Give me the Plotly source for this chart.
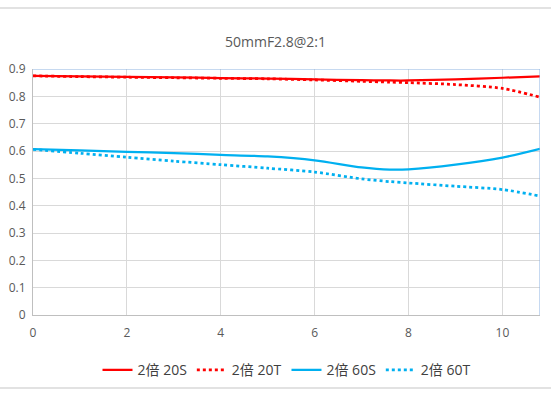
import plotly.graph_objects as go

x_vals = [0, 1, 2, 3, 4, 5, 6, 7, 7.6, 8, 9, 10, 10.8]
s20 = [0.875, 0.873, 0.871, 0.869, 0.867, 0.865, 0.862, 0.859, 0.858, 0.858, 0.862, 0.868, 0.873]
t20 = [0.875, 0.872, 0.870, 0.868, 0.866, 0.864, 0.860, 0.855, 0.852, 0.850, 0.843, 0.829, 0.797]
s60 = [0.607, 0.602, 0.597, 0.592, 0.586, 0.580, 0.566, 0.540, 0.532, 0.533, 0.550, 0.576, 0.608]
t60 = [0.606, 0.592, 0.577, 0.563, 0.550, 0.537, 0.523, 0.498, 0.488, 0.483, 0.471, 0.459, 0.435]
names = ["2倍 20S", "2倍 20T", "2倍 60S", "2倍 60T"]
x_ticks = [0, 2, 4, 6, 8, 10]
y_ticks = [0, 0.1, 0.2, 0.3, 0.4, 0.5, 0.6, 0.7, 0.8, 0.9]

RED = "#FF0000"
BLUE = "#00B0F0"
FONT = "Open Sans, Noto Sans CJK SC, sans-serif"

fig = go.Figure()
series = [(s20, RED, "solid"), (t20, RED, "dot"), (s60, BLUE, "solid"), (t60, BLUE, "dot")]
for (ys, col, dash), nm in zip(series, names):
    fig.add_trace(go.Scatter(
        x=x_vals, y=ys, mode="lines", name=nm,
        line=dict(color=col, width=2.25 if dash == "solid" else 2.75, dash=dash, shape="spline", smoothing=0.8),
    ))

xmax = 10.8
fig.update_layout(
    width=551, height=398,
    margin=dict(l=33, r=11, t=69, b=83, autoexpand=False),
    paper_bgcolor="white", plot_bgcolor="white",
    font=dict(family=FONT, color="#595959", size=12),
    title=dict(text="50mmF2.8@2:1", x=0.5, xanchor="center", y=0.895, yanchor="middle",
               font=dict(family=FONT, size=14, color="#595959")),
    xaxis=dict(range=[0, xmax], tickvals=x_ticks, showgrid=True, gridcolor="#D9D9D9", gridwidth=1,
               showline=True, linecolor="#BFBFBF", linewidth=1, zeroline=False, ticks="", automargin=False,
               ticklabelstandoff=7, tickfont=dict(size=12, color="#595959")),
    yaxis=dict(range=[0, 0.9], tickvals=y_ticks, showgrid=True, gridcolor="#D9D9D9", gridwidth=1,
               showline=True, linecolor="#BFBFBF", linewidth=1, zeroline=False, ticks="", automargin=False,
               ticklabelstandoff=4, tickfont=dict(size=12, color="#595959")),
    legend=dict(orientation="h", x=0.5, xanchor="center", y=-0.16, yanchor="top",
                font=dict(size=14, color="#404040", family=FONT), itemwidth=30, traceorder="normal"),
    showlegend=True,
)

shapes = [
    dict(type="line", xref="x", yref="y", x0=0, x1=xmax, y0=0.9, y1=0.9, line=dict(color="#8DB3E2", width=1)),
    dict(type="line", xref="x", yref="y", x0=xmax, x1=xmax, y0=0, y1=0.9, line=dict(color="#8DB3E2", width=1)),
    dict(type="line", xref="paper", yref="paper", x0=-0.07, x1=1.03, y0=(315 - 8) / 246, y1=(315 - 8) / 246,
         line=dict(color="#D9D9D9", width=1.5)),
    dict(type="line", xref="paper", yref="paper", x0=-0.07, x1=1.03, y0=(315 - 388) / 246, y1=(315 - 388) / 246,
         line=dict(color="#D9D9D9", width=1.5)),
]
fig.update_layout(shapes=shapes)

fig.write_html("out.html", config={"displayModeBar": False},
               post_script="document.body.style.margin='0';document.body.style.padding='0';")
